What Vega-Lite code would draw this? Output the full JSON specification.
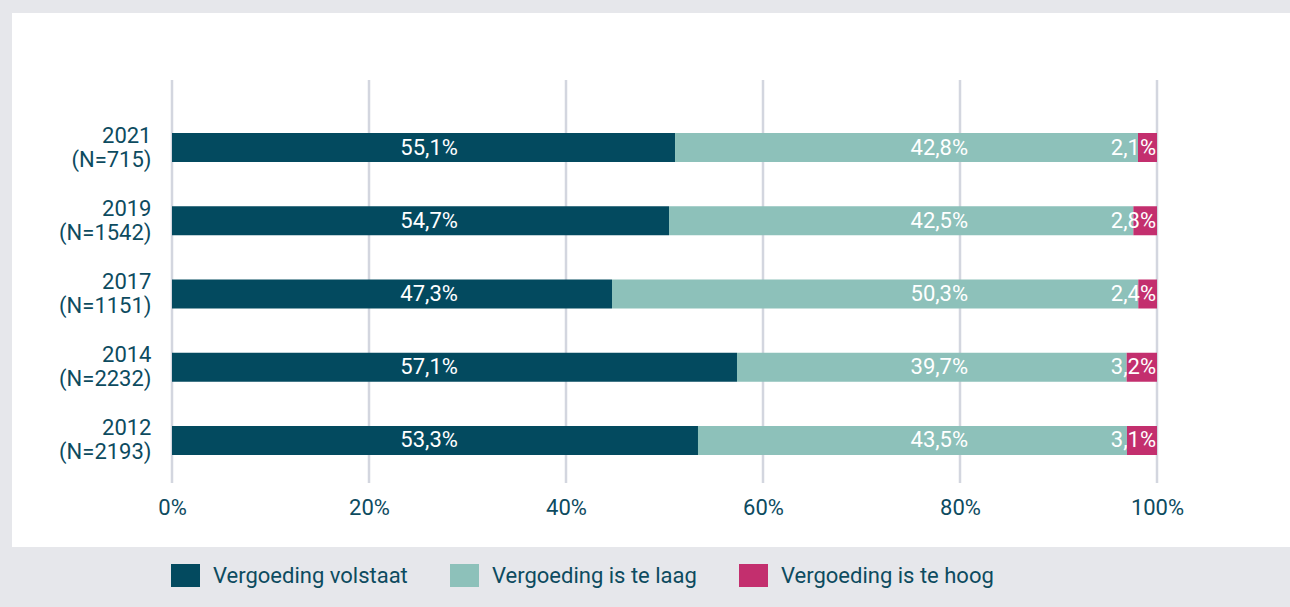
{
  "$schema": "https://vega.github.io/schema/vega-lite/v6.json",
  "width": 1278,
  "height": 534,
  "autosize": {"type": "none"},
  "padding": {"left": 12, "top": 13, "right": 0, "bottom": 60},
  "background": "#e6e7eb",
  "view": {"fill": "#ffffff", "stroke": null},
  "config": {"font": "Roboto"},
  "datasets": {
    "bars": [
      {"jaar": "2021 (N=715)", "categorie": "Vergoeding volstaat", "waarde": 51.07, "label": "55,1%"},
      {"jaar": "2021 (N=715)", "categorie": "Vergoeding is te laag", "waarde": 47.0, "label": "42,8%"},
      {"jaar": "2021 (N=715)", "categorie": "Vergoeding is te hoog", "waarde": 1.93, "label": "2,1%"},
      {"jaar": "2019 (N=1542)", "categorie": "Vergoeding volstaat", "waarde": 50.46, "label": "54,7%"},
      {"jaar": "2019 (N=1542)", "categorie": "Vergoeding is te laag", "waarde": 47.14, "label": "42,5%"},
      {"jaar": "2019 (N=1542)", "categorie": "Vergoeding is te hoog", "waarde": 2.4, "label": "2,8%"},
      {"jaar": "2017 (N=1151)", "categorie": "Vergoeding volstaat", "waarde": 44.67, "label": "47,3%"},
      {"jaar": "2017 (N=1151)", "categorie": "Vergoeding is te laag", "waarde": 53.43, "label": "50,3%"},
      {"jaar": "2017 (N=1151)", "categorie": "Vergoeding is te hoog", "waarde": 1.9, "label": "2,4%"},
      {"jaar": "2014 (N=2232)", "categorie": "Vergoeding volstaat", "waarde": 57.36, "label": "57,1%"},
      {"jaar": "2014 (N=2232)", "categorie": "Vergoeding is te laag", "waarde": 39.56, "label": "39,7%"},
      {"jaar": "2014 (N=2232)", "categorie": "Vergoeding is te hoog", "waarde": 3.08, "label": "3,2%"},
      {"jaar": "2012 (N=2193)", "categorie": "Vergoeding volstaat", "waarde": 53.4, "label": "53,3%"},
      {"jaar": "2012 (N=2193)", "categorie": "Vergoeding is te laag", "waarde": 43.55, "label": "43,5%"},
      {"jaar": "2012 (N=2193)", "categorie": "Vergoeding is te hoog", "waarde": 3.05, "label": "3,1%"}
    ],
    "grid": [{"tick": 0}, {"tick": 20}, {"tick": 40}, {"tick": 60}, {"tick": 80}, {"tick": 100}]
  },
  "layer": [
    {
      "data": {"name": "grid"},
      "mark": {"type": "rule", "color": "#d3d6df", "strokeWidth": 2.5},
      "encoding": {
        "x": {
          "field": "tick",
          "type": "quantitative",
          "title": null,
          "scale": {"domain": [-16.244, 113.503], "nice": false, "zero": false},
          "axis": {
            "values": [0, 20, 40, 60, 80, 100],
            "labelExpr": "datum.value + '%'",
            "grid": false,
            "domain": false,
            "ticks": false,
            "tickSize": 0,
            "labelFont": "Roboto",
            "labelFontSize": 22,
            "labelColor": "#0d4b5f",
            "labelPadding": 0,
            "labelBaseline": "middle",
            "labelFlush": false,
            "labelOverlap": false,
            "offset": -40,
            "title": null
          }
        },
        "y": {"datum": 0, "type": "quantitative", "scale": {"domain": [-0.15881, 1.16625], "nice": false, "zero": false}, "axis": null},
        "y2": {"datum": 1}
      }
    },
    {
      "data": {"name": "bars"},
      "encoding": {
        "y": {
          "field": "jaar",
          "type": "nominal",
          "sort": null,
          "scale": {"range": [120, 442], "paddingInner": 0.604, "paddingOuter": 0},
          "axis": {
            "title": null,
            "domain": false,
            "ticks": false,
            "tickSize": 0,
            "grid": false,
            "labelPadding": 0,
            "offset": -139,
            "labelFont": "Roboto",
            "labelFontSize": 22,
            "labelColor": "#0d4b5f",
            "labelLineHeight": 24,
            "labelBaseline": "middle",
            "labelAlign": "right",
            "labelOffset": -12,
            "labelExpr": "split(datum.value, ' ')"
          }
        }
      },
      "layer": [
        {
          "mark": {"type": "bar"},
          "encoding": {
            "x": {"field": "waarde", "type": "quantitative", "stack": "zero", "title": null},
            "order": {"field": "categorie", "sort": "descending"},
            "color": {
              "field": "categorie",
              "type": "nominal",
              "scale": {
                "domain": ["Vergoeding volstaat", "Vergoeding is te laag", "Vergoeding is te hoog"],
                "range": ["#034a5f", "#8dc1ba", "#c32f6e"]
              },
              "legend": {
                "orient": "none",
                "legendX": 162,
                "legendY": 551,
                "direction": "horizontal",
                "title": null,
                "symbolType": "M-1.26,-1H1.26V1H-1.26Z",
                "symbolSize": 529,
                "symbolStrokeWidth": 0,
                "symbolOpacity": 1,
                "labelFont": "Roboto",
                "labelFontSize": 22,
                "labelColor": "#0d4b5f",
                "labelOffset": 16,
                "labelLimit": 400,
                "columnPadding": 42,
                "padding": 0
              }
            }
          }
        },
        {
          "transform": [{"filter": "datum.categorie == 'Vergoeding volstaat'"}],
          "mark": {"type": "text", "color": "#ffffff", "fontSize": 22, "font": "Roboto", "baseline": "middle", "align": "center"},
          "encoding": {
            "x": {"datum": 26.1, "type": "quantitative", "title": null},
            "text": {"field": "label"}
          }
        },
        {
          "transform": [{"filter": "datum.categorie == 'Vergoeding is te laag'"}],
          "mark": {"type": "text", "color": "#ffffff", "fontSize": 22, "font": "Roboto", "baseline": "middle", "align": "center"},
          "encoding": {
            "x": {"datum": 77.9, "type": "quantitative", "title": null},
            "text": {"field": "label"}
          }
        },
        {
          "transform": [{"filter": "datum.categorie == 'Vergoeding is te hoog'"}],
          "mark": {"type": "text", "color": "#ffffff", "fontSize": 22, "font": "Roboto", "baseline": "middle", "align": "right"},
          "encoding": {
            "x": {"datum": 99.9, "type": "quantitative", "title": null},
            "text": {"field": "label"}
          }
        }
      ]
    }
  ],
  "resolve": {"scale": {"y": "independent"}}
}
